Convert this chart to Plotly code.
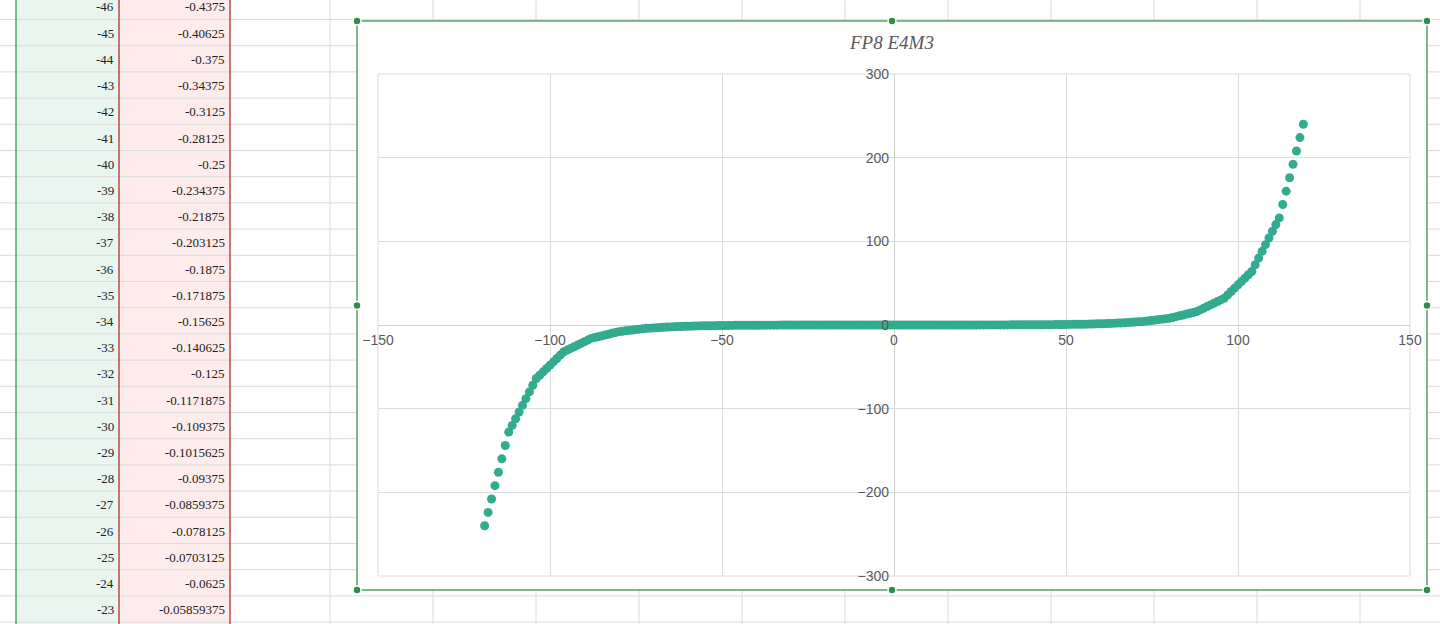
import plotly.graph_objects as go

# ---------------- data ----------------
# FP8 E4M3: signed code index -> decoded value
x_neg = [-119, -118, -117, -116, -115, -114, -113, -112,
         -111, -110, -109, -108, -107, -106, -105, -104,
         -103, -102, -101, -100, -99, -98, -97, -96,
         -95, -94, -93, -92, -91, -90, -89, -88,
         -87, -86, -85, -84, -83, -82, -81, -80,
         -79, -78, -77, -76, -75, -74, -73, -72,
         -71, -70, -69, -68, -67, -66, -65, -64,
         -63, -62, -61, -60, -59, -58, -57, -56,
         -55, -54, -53, -52, -51, -50, -49, -48,
         -47, -46, -45, -44, -43, -42, -41, -40,
         -39, -38, -37, -36, -35, -34, -33, -32,
         -31, -30, -29, -28, -27, -26, -25, -24,
         -23, -22, -21, -20, -19, -18, -17, -16,
         -15, -14, -13, -12, -11, -10, -9, -8,
         -7, -6, -5, -4, -3, -2, -1]
y_neg = [-240, -224, -208, -192, -176, -160, -144, -128,
         -120, -112, -104, -96, -88, -80, -72, -64,
         -60, -56, -52, -48, -44, -40, -36, -32,
         -30, -28, -26, -24, -22, -20, -18, -16,
         -15, -14, -13, -12, -11, -10, -9, -8,
         -7.5, -7, -6.5, -6, -5.5, -5, -4.5, -4,
         -3.75, -3.5, -3.25, -3, -2.75, -2.5, -2.25, -2,
         -1.875, -1.75, -1.625, -1.5, -1.375, -1.25, -1.125, -1,
         -0.9375, -0.875, -0.8125, -0.75, -0.6875, -0.625, -0.5625, -0.5,
         -0.46875, -0.4375, -0.40625, -0.375, -0.34375, -0.3125, -0.28125, -0.25,
         -0.234375, -0.21875, -0.203125, -0.1875, -0.171875, -0.15625, -0.140625, -0.125,
         -0.1171875, -0.109375, -0.1015625, -0.09375, -0.0859375, -0.078125, -0.0703125, -0.0625,
         -0.05859375, -0.0546875, -0.05078125, -0.046875, -0.04296875, -0.0390625, -0.03515625, -0.03125,
         -0.029296875, -0.02734375, -0.025390625, -0.0234375, -0.021484375, -0.01953125, -0.017578125, -0.015625,
         -0.013671875, -0.01171875, -0.009765625, -0.0078125, -0.005859375, -0.00390625, -0.001953125]

x_pos = [0, 1, 2, 3, 4, 5, 6, 7,
         8, 9, 10, 11, 12, 13, 14, 15,
         16, 17, 18, 19, 20, 21, 22, 23,
         24, 25, 26, 27, 28, 29, 30, 31,
         32, 33, 34, 35, 36, 37, 38, 39,
         40, 41, 42, 43, 44, 45, 46, 47,
         48, 49, 50, 51, 52, 53, 54, 55,
         56, 57, 58, 59, 60, 61, 62, 63,
         64, 65, 66, 67, 68, 69, 70, 71,
         72, 73, 74, 75, 76, 77, 78, 79,
         80, 81, 82, 83, 84, 85, 86, 87,
         88, 89, 90, 91, 92, 93, 94, 95,
         96, 97, 98, 99, 100, 101, 102, 103,
         104, 105, 106, 107, 108, 109, 110, 111,
         112, 113, 114, 115, 116, 117, 118, 119]
y_pos = [0, 0.001953125, 0.00390625, 0.005859375, 0.0078125, 0.009765625, 0.01171875, 0.013671875,
         0.015625, 0.017578125, 0.01953125, 0.021484375, 0.0234375, 0.025390625, 0.02734375, 0.029296875,
         0.03125, 0.03515625, 0.0390625, 0.04296875, 0.046875, 0.05078125, 0.0546875, 0.05859375,
         0.0625, 0.0703125, 0.078125, 0.0859375, 0.09375, 0.1015625, 0.109375, 0.1171875,
         0.125, 0.140625, 0.15625, 0.171875, 0.1875, 0.203125, 0.21875, 0.234375,
         0.25, 0.28125, 0.3125, 0.34375, 0.375, 0.40625, 0.4375, 0.46875,
         0.5, 0.5625, 0.625, 0.6875, 0.75, 0.8125, 0.875, 0.9375,
         1, 1.125, 1.25, 1.375, 1.5, 1.625, 1.75, 1.875,
         2, 2.25, 2.5, 2.75, 3, 3.25, 3.5, 3.75,
         4, 4.5, 5, 5.5, 6, 6.5, 7, 7.5,
         8, 9, 10, 11, 12, 13, 14, 15,
         16, 18, 20, 22, 24, 26, 28, 30,
         32, 36, 40, 44, 48, 52, 56, 60,
         64, 72, 80, 88, 96, 104, 112, 120,
         128, 144, 160, 176, 192, 208, 224, 240]

# spreadsheet cells visible at left
table_index = ["-46", "-45", "-44", "-43", "-42", "-41", "-40", "-39", "-38", "-37", "-36", "-35",
               "-34", "-33", "-32", "-31", "-30", "-29", "-28", "-27", "-26", "-25", "-24", "-23"]
table_value = ["-0.4375", "-0.40625", "-0.375", "-0.34375", "-0.3125", "-0.28125", "-0.25",
               "-0.234375", "-0.21875", "-0.203125", "-0.1875", "-0.171875", "-0.15625",
               "-0.140625", "-0.125", "-0.1171875", "-0.109375", "-0.1015625", "-0.09375",
               "-0.0859375", "-0.078125", "-0.0703125", "-0.0625", "-0.05859375"]

x_ticks = [-150, -100, -50, 0, 50, 100, 150]
y_ticks = [-300, -200, -100, 0, 100, 200, 300]
chart_title = "FP8 E4M3"

# ---------------- layout helpers ----------------
W, H = 1440, 624
def px(x):
    return x / W
def py(y):
    return 1 - y / H

PL, PR, PT, PB = 378, 1410, 74, 576   # plot area in pixels
FL, FR, FT, FB = 357, 1427, 21, 590   # chart frame in pixels

shapes = []
# column fills
shapes.append(dict(type="rect", xref="paper", yref="paper", x0=px(16), x1=px(119), y0=0, y1=1,
                   fillcolor="#e9f6ef", line=dict(width=0), layer="below"))
shapes.append(dict(type="rect", xref="paper", yref="paper", x0=px(119), x1=px(230), y0=0, y1=1,
                   fillcolor="#fdeceb", line=dict(width=0), layer="below"))
# row lines
ry = 19.5
while ry < H:
    shapes.append(dict(type="line", xref="paper", yref="paper", x0=0, x1=1, y0=py(ry), y1=py(ry),
                       line=dict(color="#dadada", width=1), layer="below"))
    ry += 26.2
# column lines
for cx in [330, 433, 536, 639, 742, 845, 948, 1051, 1154, 1257, 1360]:
    shapes.append(dict(type="line", xref="paper", yref="paper", x0=px(cx), x1=px(cx), y0=0, y1=1,
                       line=dict(color="#dadada", width=1), layer="below"))
shapes.append(dict(type="line", xref="paper", yref="paper", x0=px(16), x1=px(16), y0=0, y1=1,
                   line=dict(color="#4aa865", width=1.5), layer="below"))
for cx in [119, 230]:
    shapes.append(dict(type="line", xref="paper", yref="paper", x0=px(cx), x1=px(cx), y0=0, y1=1,
                       line=dict(color="#b84a46", width=1.5), layer="below"))
# chart frame
shapes.append(dict(type="rect", xref="paper", yref="paper", x0=px(FL), x1=px(FR), y0=py(FB), y1=py(FT),
                   fillcolor="white", line=dict(color="#5a9e6c", width=1.5), layer="below"))
# plot area border
shapes.append(dict(type="rect", xref="paper", yref="paper", x0=px(PL), x1=px(PR), y0=py(PB), y1=py(PT),
                   fillcolor="rgba(0,0,0,0)", line=dict(color="#dcdcdc", width=1), layer="below"))
# selection handles
mx = (FL + FR) / 2
my = (FT + FB) / 2
for hx, hy in [(FL, FT), (mx, FT), (FR, FT), (FL, my), (FR, my), (FL, FB), (mx, FB), (FR, FB)]:
    shapes.append(dict(type="circle", xref="paper", yref="paper",
                       x0=px(hx - 4), x1=px(hx + 4), y0=py(hy + 4), y1=py(hy - 4),
                       fillcolor="#2f8f4a", line=dict(color="white", width=1.5), layer="above"))

annotations = []
for k, (a, b) in enumerate(zip(table_index, table_value)):
    cy = 7 + 26.2 * k
    annotations.append(dict(text=a, xref="paper", yref="paper", x=px(116), y=py(cy),
                            xanchor="right", yanchor="middle", showarrow=False,
                            font=dict(family="Liberation Serif", size=13, color="#222222")))
    annotations.append(dict(text=b, xref="paper", yref="paper", x=px(227), y=py(cy),
                            xanchor="right", yanchor="middle", showarrow=False,
                            font=dict(family="Liberation Serif", size=13, color="#222222")))
annotations.append(dict(text="<i>" + chart_title + "</i>", xref="paper", yref="paper",
                        x=px(891), y=py(43), xanchor="center", yanchor="middle", showarrow=False,
                        font=dict(family="Liberation Serif", size=19, color="#595959")))

fig = go.Figure()
fig.add_trace(go.Scatter(x=x_neg + x_pos, y=y_neg + y_pos, mode="markers",
                         marker=dict(size=9, color="#33ab8e"), showlegend=False))

xdom = [px(PL), px(PR)]
ydom = [py(PB), py(PT)]
fig.update_layout(
    width=W, height=H, autosize=False,
    margin=dict(l=0, r=0, t=0, b=0),
    paper_bgcolor="white", plot_bgcolor="rgba(0,0,0,0)",
    shapes=shapes, annotations=annotations, showlegend=False,
    xaxis=dict(domain=xdom, range=[-150, 150], tickvals=x_ticks, showgrid=True,
               gridcolor="#dcdcdc", gridwidth=1, zeroline=True, zerolinecolor="#d0d0d0",
               zerolinewidth=1, showline=False, ticks="", anchor="free",
               position=(ydom[0] + ydom[1]) / 2, automargin=False, ticklabelstandoff=5,
               tickfont=dict(family="Liberation Sans", size=14, color="#595959")),
    yaxis=dict(domain=ydom, range=[-300, 300], tickvals=y_ticks, showgrid=True,
               gridcolor="#dcdcdc", gridwidth=1, zeroline=True, zerolinecolor="#d0d0d0",
               zerolinewidth=1, showline=False, ticks="", anchor="free",
               position=(xdom[0] + xdom[1]) / 2, automargin=False, ticklabelstandoff=5,
               tickfont=dict(family="Liberation Sans", size=14, color="#595959")),
)

fig.write_html("out.html", config={"displayModeBar": False},
               post_script="document.body.style.margin='0';document.body.style.overflow='hidden';")
